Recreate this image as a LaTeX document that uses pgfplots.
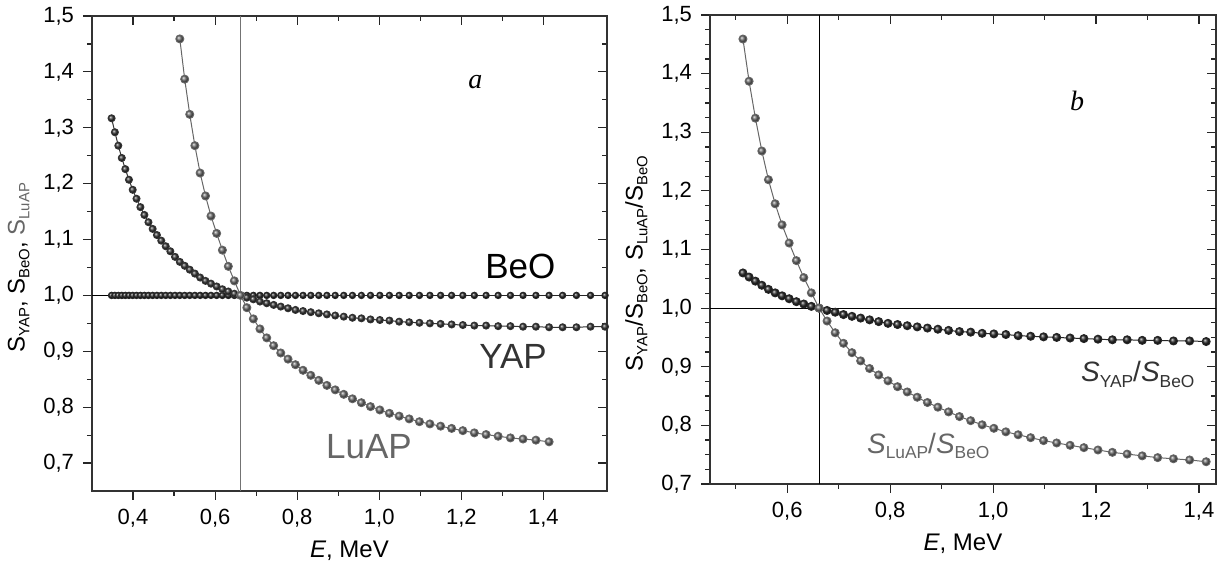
\documentclass[border=0pt]{standalone}
\usepackage{fontspec}
\setmainfont{Liberation Sans}
\newfontfamily\serif{Liberation Serif}
\usepackage{graphicx}
\usepackage{pgfplots}
\usepackage{pgfplotstable}
\pgfplotsset{compat=1.18}

\definecolor{cBeO}{HTML}{262626}
\definecolor{cYAP}{HTML}{333333}
\definecolor{cLuAP}{HTML}{666666}

% smaller subscripts, as in the original figure
\newcommand\sub[1]{\raisebox{-0.2em}{\scalebox{0.62}{#1}}}

% E, S_YAP, S_BeO (relative to 0.662 MeV)
\pgfplotstableread{
E YAP BeO
0.3477 1.317 1.000
0.3558 1.292 1.000
0.3641 1.268 1.000
0.3726 1.246 1.000
0.3812 1.226 1.000
0.3901 1.207 1.000
0.3992 1.189 1.000
0.4085 1.173 1.000
0.4180 1.158 1.000
0.4277 1.144 1.000
0.4376 1.131 1.000
0.4478 1.119 1.000
0.4582 1.108 1.000
0.4688 1.098 1.000
0.4797 1.088 1.000
0.4909 1.079 1.000
0.5023 1.069 1.000
0.5140 1.060 1.000
0.5259 1.053 1.000
0.5382 1.046 1.000
0.5507 1.039 1.000
0.5635 1.032 1.000
0.5766 1.026 1.000
0.5900 1.021 1.000
0.6038 1.016 1.000
0.6178 1.011 1.000
0.6322 1.007 1.000
0.6469 1.003 1.000
0.6620 1.000 1.000
0.6774 0.996 1.000
0.6932 0.993 1.000
0.7093 0.989 1.000
0.7258 0.986 1.000
0.7427 0.983 1.000
0.7600 0.980 1.000
0.7777 0.977 1.000
0.7958 0.974 1.000
0.8143 0.972 1.000
0.8332 0.970 1.000
0.8526 0.968 1.000
0.8724 0.966 1.000
0.8927 0.964 1.000
0.9135 0.962 1.000
0.9347 0.960 1.000
0.9565 0.959 1.000
0.9787 0.957 1.000
1.0015 0.956 1.000
1.0248 0.955 1.000
1.0486 0.953 1.000
1.0730 0.952 1.000
1.0980 0.951 1.000
1.1235 0.950 1.000
1.1496 0.949 1.000
1.1764 0.948 1.000
1.2037 0.947 1.000
1.2317 0.946 1.000
1.2604 0.946 1.000
1.2897 0.945 1.000
1.3197 0.945 1.000
1.3504 0.944 1.000
1.3818 0.944 1.000
1.4139 0.943 1.000
1.4468 0.943 1.000
1.4805 0.943 1.000
1.5149 0.944 1.000
1.5502 0.944 1.000
1.5862 0.944 1.000
}\tabA

% E, S_LuAP, S_YAP/S_BeO
\pgfplotstableread{
E LuAP YAPr
0.5140 1.459 1.060
0.5259 1.387 1.053
0.5382 1.324 1.046
0.5507 1.268 1.039
0.5635 1.219 1.032
0.5766 1.178 1.026
0.5900 1.142 1.021
0.6038 1.111 1.016
0.6178 1.081 1.011
0.6322 1.052 1.007
0.6469 1.026 1.003
0.6620 1.000 1.000
0.6774 0.978 0.996
0.6932 0.958 0.993
0.7093 0.940 0.989
0.7258 0.924 0.986
0.7427 0.910 0.983
0.7600 0.897 0.980
0.7777 0.886 0.977
0.7958 0.876 0.974
0.8143 0.866 0.972
0.8332 0.857 0.970
0.8526 0.848 0.968
0.8724 0.839 0.966
0.8927 0.831 0.964
0.9135 0.823 0.962
0.9347 0.815 0.960
0.9565 0.808 0.959
0.9787 0.801 0.957
1.0015 0.795 0.956
1.0248 0.789 0.955
1.0486 0.784 0.953
1.0730 0.779 0.952
1.0980 0.774 0.951
1.1235 0.770 0.950
1.1496 0.766 0.949
1.1764 0.762 0.948
1.2037 0.758 0.947
1.2317 0.754 0.946
1.2604 0.751 0.946
1.2897 0.748 0.945
1.3197 0.745 0.945
1.3504 0.743 0.944
1.3818 0.741 0.944
1.4139 0.738 0.943
}\tabB

\tikzset{big/.style={font=\fontsize{17.5}{19}\selectfont}}

\pgfplotsset{
  base/.style={
    scale only axis,
    anchor=south west,
    axis line style={line width=0.7pt, black!80},
    /pgf/number format/assume math mode=true,
    /pgf/number format/use comma,
    /pgf/number format/fixed,
    /pgf/number format/fixed zerofill,
    /pgf/number format/precision=1,
    tick label style={font=\fontsize{11}{13}\selectfont},
    yticklabel style={xshift=-1pt},
    xticklabel style={yshift=-1pt},
    label style={font=\fontsize{12}{14}\selectfont},
    ylabel style={at={(ticklabel cs:0.47)}},
    major tick length=4.5pt,
    minor tick length=2.5pt,
    tick style={black!85, line width=0.6pt},
    xtick={0.4,0.6,0.8,1.0,1.2,1.4},
    ytick={0.7,0.8,0.9,1.0,1.1,1.2,1.3,1.4,1.5},
    minor x tick num=1,
  },
  main/.style={base, xtick pos=left, ytick pos=left, tick align=outside},
  mirror/.style={base, xtick pos=right, ytick pos=right, tick align=inside,
    xticklabels={}, yticklabels={}},
  panelA/.style={at={(46pt,40.5pt)}, width=257.5pt, height=237.5pt,
    xmin=0.3, xmax=1.555, ymin=0.65, ymax=1.5, minor y tick num=1},
  panelB/.style={at={(355pt,44pt)}, width=253pt, height=234.5pt,
    xmin=0.45, xmax=1.433, ymin=0.7, ymax=1.5, minor y tick num=3},
  ser/.style 2 args={line width=0.5pt, color=#2, mark=ball, mark size=#1,
    mark options={ball color=#2}},
}

\begin{document}
\begin{tikzpicture}
% ---- panel a ----
\begin{axis}[mirror, panelA]
\end{axis}
\begin{axis}[main, panelA,
    xlabel={\textit{E}, MeV},
    ylabel={S\sub{YAP}, S\sub{BeO}, \textcolor{cLuAP}{S\sub{LuAP}}}]
\addplot[black, line width=0.6pt] coordinates {(0.3,1) (1.555,1)};
\addplot[black!55, line width=0.8pt] coordinates {(0.662,0.65) (0.662,1.5)};
\addplot[ser={1.6pt}{cBeO}] table[x=E, y=BeO] {\tabA};
\addplot[ser={1.75pt}{cYAP}] table[x=E, y=YAP] {\tabA};
\addplot[ser={2pt}{cLuAP}] table[x=E, y=LuAP] {\tabB};
\node[font=\serif\itshape\fontsize{14}{16}\selectfont] at (axis cs:1.234,1.382) {a};
\node[big, text=black] at (axis cs:1.344,1.052) {BeO};
\node[big, text=cYAP] at (axis cs:1.326,0.890) {YAP};
\node[big, text=cLuAP] at (axis cs:0.975,0.729) {LuAP};
\end{axis}
% ---- panel b ----
\begin{axis}[mirror, panelB]
\end{axis}
\begin{axis}[main, panelB,
    xlabel={\textit{E}, MeV},
    ylabel={S\sub{YAP}/S\sub{BeO}, S\sub{LuAP}/S\sub{BeO}}]
\addplot[black, line width=0.6pt] coordinates {(0.45,1) (1.433,1)};
\addplot[black, line width=0.6pt] coordinates {(0.662,0.7) (0.662,1.5)};
\addplot[ser={2pt}{cBeO}] table[x=E, y=YAPr] {\tabB};
\addplot[ser={2pt}{cLuAP}] table[x=E, y=LuAP] {\tabB};
\node[font=\serif\itshape\fontsize{14}{16}\selectfont] at (axis cs:1.163,1.353) {b};
\node[font=\fontsize{14}{16}\selectfont, text=cYAP] at (axis cs:1.281,0.887)
  {\textit{S}\sub{YAP}/\textit{S}\sub{BeO}};
\node[font=\fontsize{14}{16}\selectfont, text=cLuAP] at (axis cs:0.874,0.765)
  {\textit{S}\sub{LuAP}/\textit{S}\sub{BeO}};
\end{axis}
\pgfresetboundingbox
\path[use as bounding box] (0,0) rectangle (610pt,286pt);
\end{tikzpicture}
\end{document}
